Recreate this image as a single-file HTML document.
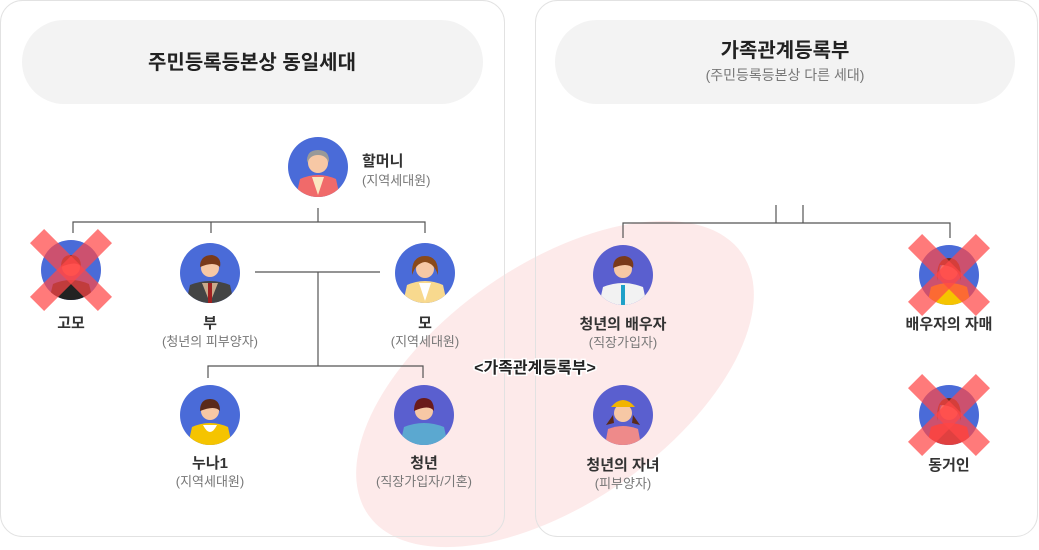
<!DOCTYPE html>
<html><head><meta charset="utf-8"><style>
html,body{margin:0;padding:0;background:#fff;width:1039px;height:550px;overflow:hidden;}
svg{display:block;font-family:"Liberation Sans","Noto Sans CJK KR",sans-serif;}
.t{font-size:15px;font-weight:bold;fill:#333;text-anchor:middle;}
.s{font-size:13px;fill:#777;text-anchor:middle;}
.ln{stroke:#555;stroke-width:1.2;fill:none;}
</style></head><body>
<svg width="1039" height="550" viewBox="0 0 1039 550">
<defs>
<clipPath id="c"><circle cx="0" cy="0" r="30"/></clipPath>
<g id="x"><g transform="rotate(45)" fill="rgba(255,70,70,0.72)"><rect x="-48" y="-10" width="96" height="20"/></g><g transform="rotate(-45)" fill="rgba(255,70,70,0.72)"><rect x="-48" y="-10" width="96" height="20"/></g></g>
</defs>
<ellipse cx="555" cy="384" rx="228" ry="119" transform="rotate(-35 555 384)" fill="#fdeaea"/>
<rect x="0.5" y="0.5" width="504" height="536" rx="22" fill="none" stroke="#e2e2e2"/>
<rect x="535.5" y="0.5" width="502" height="536" rx="22" fill="none" stroke="#e2e2e2"/>
<rect x="22" y="20" width="461" height="84" rx="42" fill="#f3f3f3"/>
<rect x="555" y="20" width="460" height="84" rx="42" fill="#f3f3f3"/>
<text x="252" y="69" style="font-size:20px;font-weight:bold;fill:#222" text-anchor="middle">주민등록등본상 동일세대</text>
<text x="785" y="57" style="font-size:20px;font-weight:bold;fill:#222" text-anchor="middle">가족관계등록부</text>
<text x="785" y="80" style="font-size:14px;fill:#777" text-anchor="middle">(주민등록등본상 다른 세대)</text>
<path class="ln" d="M318 208V222M73 233V222H425V233M211 222V233M255 272H380M318 272V366M208 378V366H423V378"/>
<path class="ln" d="M776 205V223M803 205V223M623 238V223H950V238"/>
<g transform="translate(318,167)"><circle r="30" fill="#4a6bd8"/><g clip-path="url(#c)"><path d="M-22 30 L-18 12 Q0 4 18 12 L22 30Z" fill="#f06a6a"/><path d="M-6 10 L0 28 L6 10Z" fill="#fbe6c0"/><circle cy="-4" r="10" fill="#f7c8a5"/><path d="M-11 -4 Q-12 -17 0 -17 Q12 -17 11 -4 Q8 -12 0 -12 Q-8 -12 -11 -4Z" fill="#999"/></g></g>
<g transform="translate(71,270)"><circle r="30" fill="#4a6bd8"/><g clip-path="url(#c)"><path d="M-22 30 L-18 14 Q0 6 18 14 L22 30Z" fill="#222"/><circle cy="-3" r="9" fill="#f7c8a5"/><path d="M-10 -3 Q-10 -15 0 -15 Q10 -15 10 -3 Q6 -10 -10 -3Z" fill="#5a2a1a"/></g></g>
<g transform="translate(210,273)"><circle r="30" fill="#4a6bd8"/><g clip-path="url(#c)"><path d="M-24 30 L-20 12 Q0 4 20 12 L24 30Z" fill="#444"/><path d="M-8 10 L0 30 L8 10Z" fill="#c9a98a"/><rect x="-2" y="10" width="4" height="20" fill="#a02020"/><circle cy="-5" r="9" fill="#f7c8a5"/><path d="M-10 -6 Q-10 -18 2 -18 Q12 -16 10 -6 Q4 -12 -10 -6Z" fill="#7a3a1a"/></g></g>
<g transform="translate(425,273)"><circle r="30" fill="#4a6bd8"/><g clip-path="url(#c)"><path d="M-22 30 L-18 12 Q0 4 18 12 L22 30Z" fill="#f8d98e"/><path d="M-6 10 L0 28 L6 10Z" fill="#fff"/><circle cy="-4" r="9" fill="#f7c8a5"/><path d="M-13 2 Q-14 -17 0 -17 Q14 -17 13 2 Q9 -10 0 -11 Q-9 -10 -13 2Z" fill="#8a4a1a"/></g></g>
<g transform="translate(210,415)"><circle r="30" fill="#4a6bd8"/><g clip-path="url(#c)"><path d="M-22 30 L-18 12 Q0 4 18 12 L22 30Z" fill="#f5c400"/><path d="M-7 10 Q0 24 7 10Z" fill="#fff"/><circle cy="-4" r="9" fill="#f7c8a5"/><path d="M-10 -4 Q-10 -16 0 -16 Q10 -16 10 -4 Q5 -10 -10 -4Z" fill="#5a2a1a"/></g></g>
<g transform="translate(424,415)"><circle r="30" fill="#5a5fcf"/><g clip-path="url(#c)"><path d="M-24 30 L-20 12 Q0 4 20 12 L24 30Z" fill="#5ba8d0"/><circle cy="-4" r="9" fill="#f7c8a5"/><path d="M-10 -4 Q-10 -17 0 -17 Q10 -17 10 -4 Q5 -11 -10 -4Z" fill="#6a1a1a"/></g></g>
<g transform="translate(623,275)"><circle r="30" fill="#5a5fcf"/><g clip-path="url(#c)"><path d="M-24 30 L-20 12 Q0 4 20 12 L24 30Z" fill="#f2f2f2"/><rect x="-2" y="10" width="4" height="20" fill="#1ea0c8"/><circle cy="-6" r="9" fill="#f7c8a5"/><path d="M-10 -7 Q-10 -19 2 -19 Q12 -17 10 -7 Q4 -13 -10 -7Z" fill="#7a3a1a"/></g></g>
<g transform="translate(623,415)"><circle r="30" fill="#5a5fcf"/><g clip-path="url(#c)"><path d="M-18 30 L-15 14 Q0 8 15 14 L18 30Z" fill="#ee8a8a"/><circle cy="-2" r="9" fill="#f7c8a5"/><path d="M-12 -8 Q0 -22 12 -8Z" fill="#f2b400"/><path d="M-10 0 L-17 10 L-9 8Z M10 0 L17 10 L9 8Z" fill="#5a2a1a"/></g></g>
<g transform="translate(949,275)"><circle r="30" fill="#4a6bd8"/><g clip-path="url(#c)"><path d="M-22 30 L-18 12 Q0 4 18 12 L22 30Z" fill="#f5c400"/><circle cy="-4" r="9" fill="#f7c8a5"/><path d="M-12 6 Q-13 -17 0 -17 Q13 -17 12 6 Q9 -10 -9 -10Z" fill="#6a2a1a"/></g></g>
<g transform="translate(949,415)"><circle r="30" fill="#4a6bd8"/><g clip-path="url(#c)"><path d="M-22 30 L-18 12 Q0 4 18 12 L22 30Z" fill="#e04040"/><circle cy="-4" r="9" fill="#f7c8a5"/><path d="M-12 6 Q-13 -17 0 -17 Q13 -17 12 6 Q9 -10 -9 -10Z" fill="#6a2a1a"/></g></g>
<use href="#x" x="71" y="270"/>
<use href="#x" x="949" y="275"/>
<use href="#x" x="949" y="415"/>
<text x="362" y="166" style="font-size:15px;font-weight:bold;fill:#333">할머니</text>
<text x="362" y="185" style="font-size:13px;fill:#777">(지역세대원)</text>
<text class="t" x="71" y="328">고모</text>
<text class="t" x="210" y="328">부</text><text class="s" x="210" y="346">(청년의 피부양자)</text>
<text class="t" x="425" y="328">모</text><text class="s" x="425" y="346">(지역세대원)</text>
<text class="t" x="210" y="468">누나1</text><text class="s" x="210" y="486">(지역세대원)</text>
<text class="t" x="424" y="468">청년</text><text class="s" x="424" y="486">(직장가입자/기혼)</text>
<text class="t" x="623" y="329">청년의 배우자</text><text class="s" x="623" y="347">(직장가입자)</text>
<text class="t" x="949" y="329">배우자의 자매</text>
<text class="t" x="623" y="470">청년의 자녀</text><text class="s" x="623" y="488">(피부양자)</text>
<text class="t" x="949" y="470">동거인</text>
<text x="535" y="373" style="font-size:16px;font-weight:bold;fill:#222;stroke:#fff;stroke-width:3;paint-order:stroke" text-anchor="middle">&lt;가족관계등록부&gt;</text>
</svg>
</body></html>
